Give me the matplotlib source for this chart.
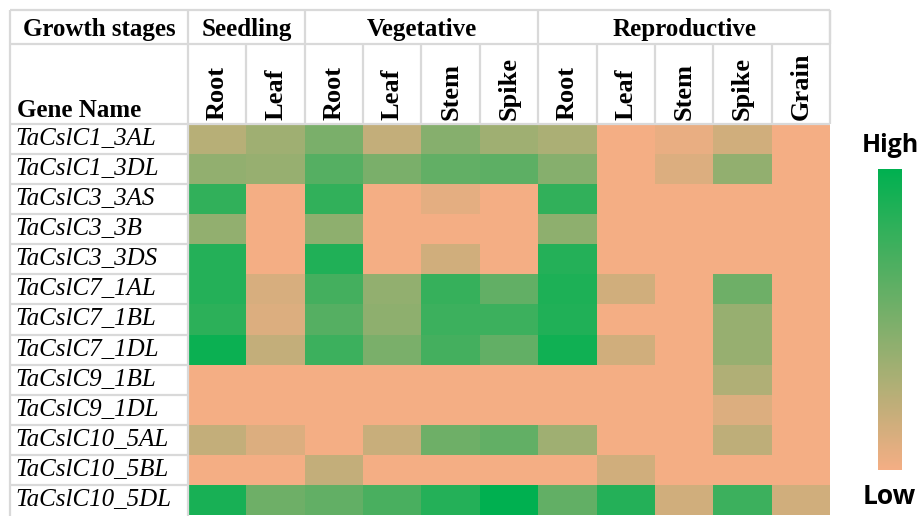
import numpy as np
import matplotlib.pyplot as plt
from matplotlib.colors import LinearSegmentedColormap

# Data (relative expression, 0 = low, 1 = high)
genes = ["TaCslC1_3AL", "TaCslC1_3DL", "TaCslC3_3AS", "TaCslC3_3B", "TaCslC3_3DS",
         "TaCslC7_1AL", "TaCslC7_1BL", "TaCslC7_1DL", "TaCslC9_1BL", "TaCslC9_1DL",
         "TaCslC10_5AL", "TaCslC10_5BL", "TaCslC10_5DL"]
tissues = ["Root", "Leaf", "Root", "Leaf", "Stem", "Spike",
           "Root", "Leaf", "Stem", "Spike", "Grain"]
stages = ["Seedling", "Vegetative", "Reproductive"]
stage_sizes = [2, 4, 5]

expr = np.array([
    [0.25, 0.35, 0.50, 0.20, 0.45, 0.35, 0.30, 0.00, 0.05, 0.15, 0.00],
    [0.40, 0.38, 0.65, 0.50, 0.60, 0.62, 0.45, 0.00, 0.10, 0.40, 0.00],
    [0.80, 0.00, 0.80, 0.00, 0.07, 0.00, 0.80, 0.00, 0.00, 0.00, 0.00],
    [0.40, 0.00, 0.42, 0.00, 0.00, 0.00, 0.42, 0.00, 0.00, 0.00, 0.00],
    [0.85, 0.00, 0.87, 0.00, 0.15, 0.00, 0.85, 0.00, 0.00, 0.00, 0.00],
    [0.85, 0.12, 0.72, 0.40, 0.78, 0.60, 0.88, 0.15, 0.00, 0.55, 0.00],
    [0.82, 0.10, 0.65, 0.42, 0.75, 0.75, 0.87, 0.00, 0.00, 0.38, 0.00],
    [0.95, 0.20, 0.75, 0.50, 0.72, 0.60, 0.93, 0.15, 0.00, 0.38, 0.00],
    [0.00, 0.00, 0.00, 0.00, 0.00, 0.00, 0.00, 0.00, 0.00, 0.28, 0.00],
    [0.00, 0.00, 0.00, 0.00, 0.00, 0.00, 0.00, 0.00, 0.00, 0.10, 0.00],
    [0.20, 0.10, 0.00, 0.18, 0.55, 0.60, 0.35, 0.00, 0.00, 0.22, 0.00],
    [0.00, 0.00, 0.20, 0.00, 0.00, 0.00, 0.00, 0.15, 0.00, 0.00, 0.00],
    [0.90, 0.55, 0.60, 0.70, 0.85, 1.00, 0.60, 0.85, 0.15, 0.75, 0.15],
])

cmap = LinearSegmentedColormap.from_list("lowhigh", ["#F4AE84", "#00B050"])
grid_c = "#D9D9D9"
serif = "Liberation Serif"

W, H = 919, 516
fig = plt.figure(figsize=(W / 100, H / 100), dpi=100)

# heatmap area in pixels
x0, x1, y0, y1 = 188, 830, 124, 515
ax = fig.add_axes([x0 / W, 1 - y1 / H, (x1 - x0) / W, (y1 - y0) / H])
ax.pcolormesh(np.arange(len(tissues) + 1), np.arange(len(genes) + 1), expr,
              cmap=cmap, vmin=0, vmax=1)
ax.set_xlim(0, len(tissues))
ax.set_ylim(len(genes), 0)
ax.axis("off")

ux = (x1 - x0) / len(tissues)
uy = (y1 - y0) / len(genes)
left = (10 - x0) / ux
top = (10 - y0) / uy
mid = (44 - y0) / uy
base1 = (36 - y0) / uy   # baseline of the first header row
nc = len(tissues)
nr = len(genes)

def line(xs, ys):
    ax.plot(xs, ys, color=grid_c, lw=1.6, clip_on=False, solid_capstyle="butt")

# table borders
line([left, nc], [top, top])
line([left, nc], [mid, mid])
line([left, nc], [0, 0])
line([left, left], [top, nr + 0.05])
line([nc, nc], [top, 0])
line([0, 0], [top, nr + 0.05])
for i in range(1, nr):
    line([left, 0], [i, i])
for j in range(1, nc):
    line([j, j], [mid, 0])
b = 0
for s in stage_sizes:
    b += s
    line([b, b], [top, mid])

# header texts
ax.text(left / 2, base1, "Growth stages", ha="center", va="baseline",
        family=serif, weight="bold", fontsize=18, clip_on=False)
b = 0
for s, n in zip(stages, stage_sizes):
    ax.text(b + n / 2, base1, s, ha="center", va="baseline",
            family=serif, weight="bold", fontsize=18, clip_on=False)
    b += n
ax.text(left + 0.12, (117 - y0) / uy, "Gene Name", ha="left", va="baseline",
        family=serif, weight="bold", fontsize=18, clip_on=False)
for j, t in enumerate(tissues):
    ax.text(j + 0.5, -0.12, t, ha="center", va="bottom", rotation=90,
            family=serif, weight="bold", fontsize=19, clip_on=False)
for i, g in enumerate(genes):
    ax.text(left + 0.1, i + 0.5, g, ha="left", va="center",
            family=serif, style="italic", fontsize=18, clip_on=False)

# colour legend
cax = fig.add_axes([878 / W, 1 - 470 / H, 24 / W, 301 / H])
sm = plt.cm.ScalarMappable(cmap=cmap, norm=plt.Normalize(0, 1))
cb = fig.colorbar(sm, cax=cax)
cb.set_ticks([])
cb.outline.set_visible(False)
fig.text(890 / W, 1 - 145 / H, "High", ha="center", va="center",
         family="Open Sans", weight="bold", fontsize=18)
fig.text(889 / W, 1 - 496 / H, "Low", ha="center", va="center",
         family="Open Sans", weight="bold", fontsize=19)

fig.savefig("out.png", dpi=100)
